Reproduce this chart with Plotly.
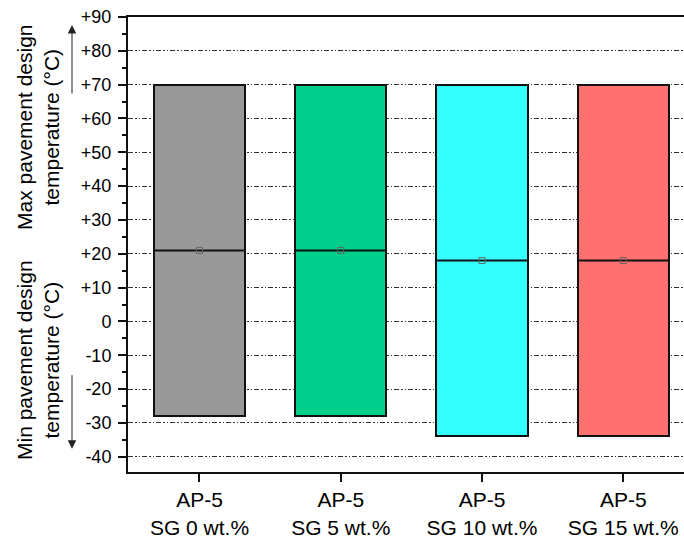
import plotly.graph_objects as go

categories = ["AP-5<br>SG 0 wt.%", "AP-5<br>SG 5 wt.%", "AP-5<br>SG 10 wt.%", "AP-5<br>SG 15 wt.%"]
max_temp = [70, 70, 70, 70]
min_temp = [-28, -28, -34, -34]
mid_temp = [21, 21, 18, 18]
colors = ["#999999", "#00D08C", "#33FFFF", "#FF7070"]
y_tickvals = [90, 80, 70, 60, 50, 40, 30, 20, 10, 0, -10, -20, -30, -40]
y_ticktext = ["+90", "+80", "+70", "+60", "+50", "+40", "+30", "+20", "+10", "0", "-10", "-20", "-30", "-40"]

xs = list(range(len(categories)))
fig = go.Figure()
fig.add_trace(go.Bar(
    x=xs, y=[a - b for a, b in zip(max_temp, min_temp)], base=min_temp,
    width=0.645, marker=dict(color=colors, line=dict(color="#111111", width=2)),
    showlegend=False, hoverinfo="skip"))
# median lines
for i, m in enumerate(mid_temp):
    fig.add_trace(go.Scatter(x=[i - 0.3225, i + 0.3225], y=[m, m], mode="lines",
                             line=dict(color="#111111", width=2), showlegend=False, hoverinfo="skip"))
fig.add_trace(go.Scatter(x=xs, y=mid_temp, mode="markers",
                         marker=dict(symbol="square-open", size=6, color="#666666", line=dict(width=1)),
                         showlegend=False, hoverinfo="skip"))

font = "Arial, Liberation Sans, sans-serif"
fig.update_layout(
    width=684, height=538, margin=dict(l=128, r=0, t=17, b=66),
    plot_bgcolor="white", paper_bgcolor="white",
    font=dict(family=font, size=21, color="black"),
    bargap=0,
    xaxis=dict(range=[-0.506, 3.43], tickvals=xs, ticktext=categories,
               showline=True, linecolor="#111111", linewidth=2, mirror=True,
               ticks="outside", ticklen=8, tickwidth=2, tickcolor="#111111",
               showgrid=False, zeroline=False, tickfont=dict(size=21)),
    yaxis=dict(range=[-44.5, 90], tickvals=y_tickvals, ticktext=y_ticktext,
               showline=True, linecolor="#111111", linewidth=2,
               ticks="outside", ticklen=8, tickwidth=2, tickcolor="#111111",
               minor=dict(dtick=5, ticks="outside", ticklen=4, tickwidth=1.5, tickcolor="#111111", showgrid=False),
               showgrid=True, gridcolor="#333333", gridwidth=1, griddash="5px,2px,1.5px,2px,1.5px,2px",
               zeroline=False, tickfont=dict(size=18), ticklabelstandoff=3),
)
fig.add_annotation(xref="paper", yref="paper", x=-0.163, y=0.757, xanchor="center", yanchor="middle",
                   text="Max pavement design<br>temperature (°C)", textangle=-90, showarrow=False,
                   font=dict(size=21))
fig.add_annotation(xref="paper", yref="paper", x=-0.163, y=0.247, xanchor="center", yanchor="middle",
                   text="Min pavement design<br>temperature (°C)", textangle=-90, showarrow=False,
                   font=dict(size=21))
fig.add_annotation(xref="paper", yref="y", x=-0.1007, y=87.6, ax=0, ay=70, text="", showarrow=True,
                   arrowhead=2, arrowsize=1.7, arrowwidth=1, arrowcolor="#222222")
fig.add_annotation(xref="paper", yref="y", x=-0.1007, y=-37.6, ax=0, ay=-75, text="", showarrow=True,
                   arrowhead=2, arrowsize=1.7, arrowwidth=1, arrowcolor="#222222")
fig.write_html("out.html")
